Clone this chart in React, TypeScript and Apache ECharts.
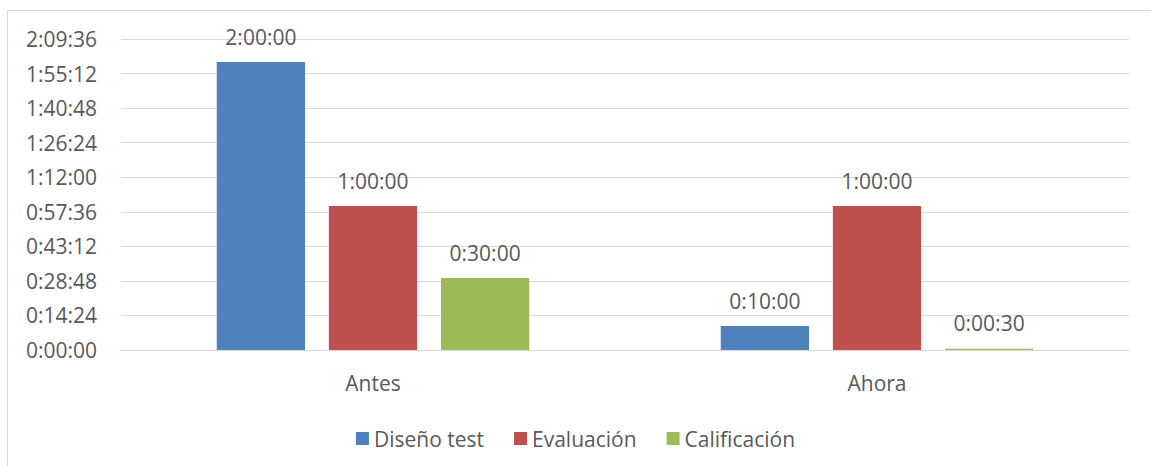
import React, { useEffect, useRef } from "react";
import * as echarts from "echarts";

const categories = ["Antes", "Ahora"];
const seriesNames = ["Diseño test", "Evaluación", "Calificación"];
// values in seconds
const disenoTest = [7200, 600];
const evaluacion = [3600, 3600];
const calificacion = [1800, 30];
const colors = ["#4F81BD", "#C0504D", "#9BBB59"];
const yMax = 7776; // 2:09:36
const yInterval = 864; // 0:14:24

function fmt(sec: number): string {
  const h = Math.floor(sec / 3600);
  const m = Math.floor((sec % 3600) / 60);
  const s = Math.round(sec % 60);
  return `${h}:${String(m).padStart(2, "0")}:${String(s).padStart(2, "0")}`;
}

const FONT = "'Open Sans', sans-serif";
const TXT = "#595959";
const FS = 21;

export default function App() {
  const ref = useRef<HTMLDivElement>(null);
  useEffect(() => {
    if (!ref.current) return;
    const chart = echarts.init(ref.current, undefined, { renderer: "svg" });
    const data = [disenoTest, evaluacion, calificacion];
    chart.setOption({
      animation: false,
      textStyle: { fontFamily: FONT },
      graphic: [
        {
          type: "rect",
          shape: { x: 7.5, y: 10.5, width: 1160, height: 480 },
          style: { fill: "none", stroke: "#D9D9D9", lineWidth: 1 },
          silent: true,
        },
      ],
      grid: { left: 121, right: 22, top: 39, bottom: 116, containLabel: false },
      legend: {
        data: seriesNames,
        bottom: 12,
        left: "center",
        itemWidth: 13,
        itemHeight: 13,
        itemGap: 30,
        icon: "rect",
        textStyle: { color: TXT, fontSize: FS, fontFamily: FONT },
      },
      xAxis: {
        type: "category",
        data: categories,
        axisLine: { show: true, lineStyle: { color: "#D9D9D9" } },
        axisTick: { show: false },
        axisLabel: { color: TXT, fontSize: FS, margin: 22, fontFamily: FONT },
      },
      yAxis: {
        type: "value",
        min: 0,
        max: yMax,
        interval: yInterval,
        axisLine: { show: false },
        axisTick: { show: false },
        splitLine: { lineStyle: { color: "#D9D9D9", width: 1 } },
        axisLabel: {
          color: TXT,
          fontSize: FS,
          margin: 24,
          fontFamily: FONT,
          formatter: (v: number) => fmt(v),
        },
      },
      series: seriesNames.map((name, i) => ({
        name,
        type: "bar",
        data: data[i],
        barGap: "27%",
        barCategoryGap: "38%",
        itemStyle: { color: colors[i] },
        label: {
          show: true,
          position: "top",
          distance: 15,
          color: TXT,
          fontSize: FS,
          fontFamily: FONT,
          formatter: (p: any) => fmt(p.value),
        },
      })),
    });
    return () => chart.dispose();
  }, []);
  return (
    <div
      ref={ref}
      style={{ position: "absolute", left: 0, top: 0, width: 1151, height: 466, background: "#fff" }}
    />
  );
}
